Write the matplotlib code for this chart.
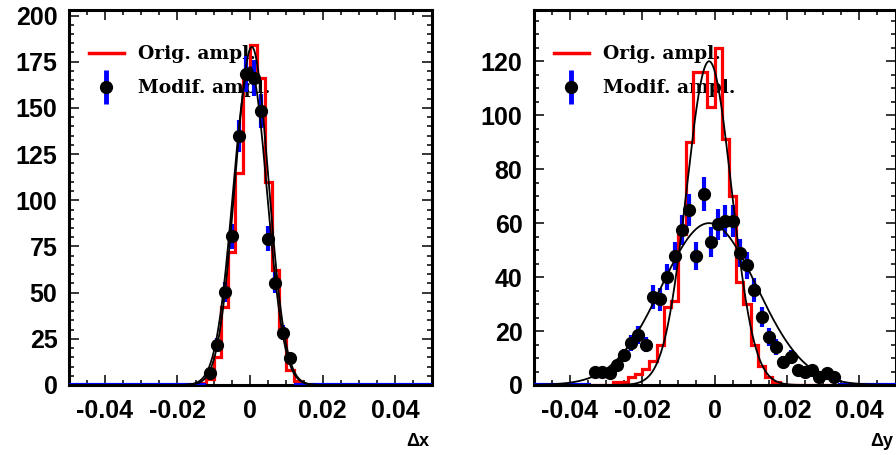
import numpy as np
import matplotlib
matplotlib.use("Agg")
import matplotlib.pyplot as plt
from matplotlib.lines import Line2D
from matplotlib.ticker import MultipleLocator

# ---------------- data ----------------
bin_width = 0.002
bin_centers = np.round(np.arange(-0.049, 0.0491, 0.002), 4)

# Left panel (Delta x): non-zero bins
dx_orig_vals = {-0.013: 1, -0.011: 3, -0.009: 15, -0.007: 42, -0.005: 72, -0.003: 115,
                -0.001: 166, 0.001: 184, 0.003: 166, 0.005: 110, 0.007: 62,
                0.009: 30, 0.011: 8, 0.013: 2}
dx_modif_vals = {-0.011: 6.5, -0.009: 21.7, -0.007: 50.5, -0.005: 80.4,
                 -0.003: 134.8, -0.001: 168.5, 0.001: 166.3, 0.003: 148.4,
                 0.005: 79.3, 0.007: 55.4, 0.009: 28.3, 0.011: 14.7}
# Gaussian fit parameters (amplitude, mean, sigma)
dx_fit_orig = (183, 0.0005, 0.0046)
dx_fit_modif = (172, 0.0000, 0.0047)

# Right panel (Delta y)
dy_orig_vals = {-0.027: 1, -0.025: 1, -0.023: 3, -0.021: 4, -0.019: 6, -0.017: 9,
                -0.015: 15, -0.013: 29, -0.011: 31, -0.009: 56, -0.007: 90,
                -0.005: 116, -0.003: 116, -0.001: 103, 0.001: 125, 0.003: 91,
                0.005: 70, 0.007: 38, 0.009: 30, 0.011: 15, 0.013: 7, 0.015: 3,
                0.017: 1}
dy_modif_vals = {-0.033: 4.8, -0.031: 4.8, -0.029: 4.4, -0.027: 7.4, -0.025: 11,
                 -0.023: 15.6, -0.021: 18.5, -0.019: 15, -0.017: 32.6, -0.015: 31.8,
                 -0.013: 40, -0.011: 47.8, -0.009: 57.4, -0.007: 64.8, -0.005: 47.8,
                 -0.003: 70.7, -0.001: 53, 0.001: 59.6, 0.003: 60.7, 0.005: 60.7,
                 0.007: 48.8, 0.009: 44.4, 0.011: 35.2, 0.013: 25.2, 0.015: 17.8,
                 0.017: 14.1, 0.019: 8.5, 0.021: 10.4, 0.023: 5.6, 0.025: 4.8,
                 0.027: 5.6, 0.029: 3, 0.031: 4.4, 0.033: 3}
dy_fit_orig = (120, -0.0015, 0.0062)
dy_fit_modif = (60, -0.0015, 0.0132)

x_ticks = [-0.04, -0.02, 0, 0.02, 0.04]
x_ticklabels = ["-0.04", "-0.02", "0", "0.02", "0.04"]
legend_labels = ["Orig. ampl.", "Modif. ampl."]


def to_array(d):
    return np.array([d.get(float(c), 0.0) for c in bin_centers])


def gauss(x, p):
    a, m, s = p
    return a * np.exp(-0.5 * ((x - m) / s) ** 2)


# ---------------- figure ----------------
W, H = 896, 455
fig = plt.figure(figsize=(W / 100, H / 100), dpi=100)
fig.patch.set_facecolor("white")

tick_family = ["Liberation Sans", "DejaVu Sans"]
leg_font = {"family": ["DejaVu Serif"], "weight": "bold", "size": 13.5}


def make_panel(rect, orig, modif, fit_o, fit_m, ymax, ymaj, label):
    ax = fig.add_axes(rect)
    edges = np.append(bin_centers - bin_width / 2, bin_centers[-1] + bin_width / 2)
    ax.stairs(orig, edges, color="#ff0000", lw=2.3, zorder=2, baseline=None)
    err = np.sqrt(modif) * 0.75
    nz = modif > 0
    ax.errorbar(bin_centers, modif, xerr=bin_width / 2, yerr=err, fmt="none",
                ecolor="#0000ff", elinewidth=3.0, capsize=0, zorder=3)
    ax.plot(bin_centers[nz], modif[nz], "o", color="black", ms=8.5, zorder=4)
    xf = np.linspace(-0.05, 0.05, 1200)
    ax.plot(xf, gauss(xf, fit_o), color="black", lw=1.3, zorder=5)
    ax.plot(xf, gauss(xf, fit_m), color="black", lw=1.3, zorder=5)

    ax.set_xlim(-0.05, 0.05)
    ax.set_ylim(0, ymax)
    ax.set_xticks(x_ticks)
    ax.set_xticklabels(x_ticklabels)
    ax.xaxis.set_minor_locator(MultipleLocator(0.005))
    ax.yaxis.set_major_locator(MultipleLocator(ymaj))
    ax.yaxis.set_minor_locator(MultipleLocator(5))
    ax.tick_params(which="both", direction="in", top=True, right=True, width=1.1)
    ax.tick_params(which="major", length=7)
    ax.tick_params(axis="x", which="major", pad=10)
    ax.tick_params(axis="y", which="major", pad=8)
    ax.tick_params(which="minor", length=3.5)
    for lab in ax.get_xticklabels() + ax.get_yticklabels():
        lab.set_fontfamily(tick_family)
        lab.set_fontweight("bold")
        lab.set_fontsize(18)
    for sp in ax.spines.values():
        sp.set_linewidth(2.2)

    h1 = Line2D([], [], color="#ff0000", lw=2.5)
    h2a = Line2D([], [], color="#0000ff", marker="|", ms=24, mew=3.5, ls="none")
    h2b = Line2D([], [], color="black", marker="o", ms=8.5, ls="none")
    leg = ax.legend([h1, (h2a, h2b)], legend_labels, loc="upper left",
                    bbox_to_anchor=(0.036, 0.926), frameon=False,
                    prop=leg_font, handlelength=1.85, handletextpad=0.75,
                    labelspacing=0.85, borderaxespad=0)
    leg.set_zorder(1)

    ax.text(0.995, -0.15, label, transform=ax.transAxes, ha="right", va="center",
            fontfamily=tick_family, fontweight="bold", fontsize=13)
    return ax


axh = (385 - 10) / H
make_panel([68.5 / W, (H - 385) / H, 363 / W, axh], to_array(dx_orig_vals),
           to_array(dx_modif_vals), dx_fit_orig, dx_fit_modif, 203, 25, "Δx")
make_panel([533.5 / W, (H - 385) / H, 362 / W, axh], to_array(dy_orig_vals),
           to_array(dy_modif_vals), dy_fit_orig, dy_fit_modif, 139, 20, "Δy")

fig.savefig("out.png", dpi=100, facecolor="white")
